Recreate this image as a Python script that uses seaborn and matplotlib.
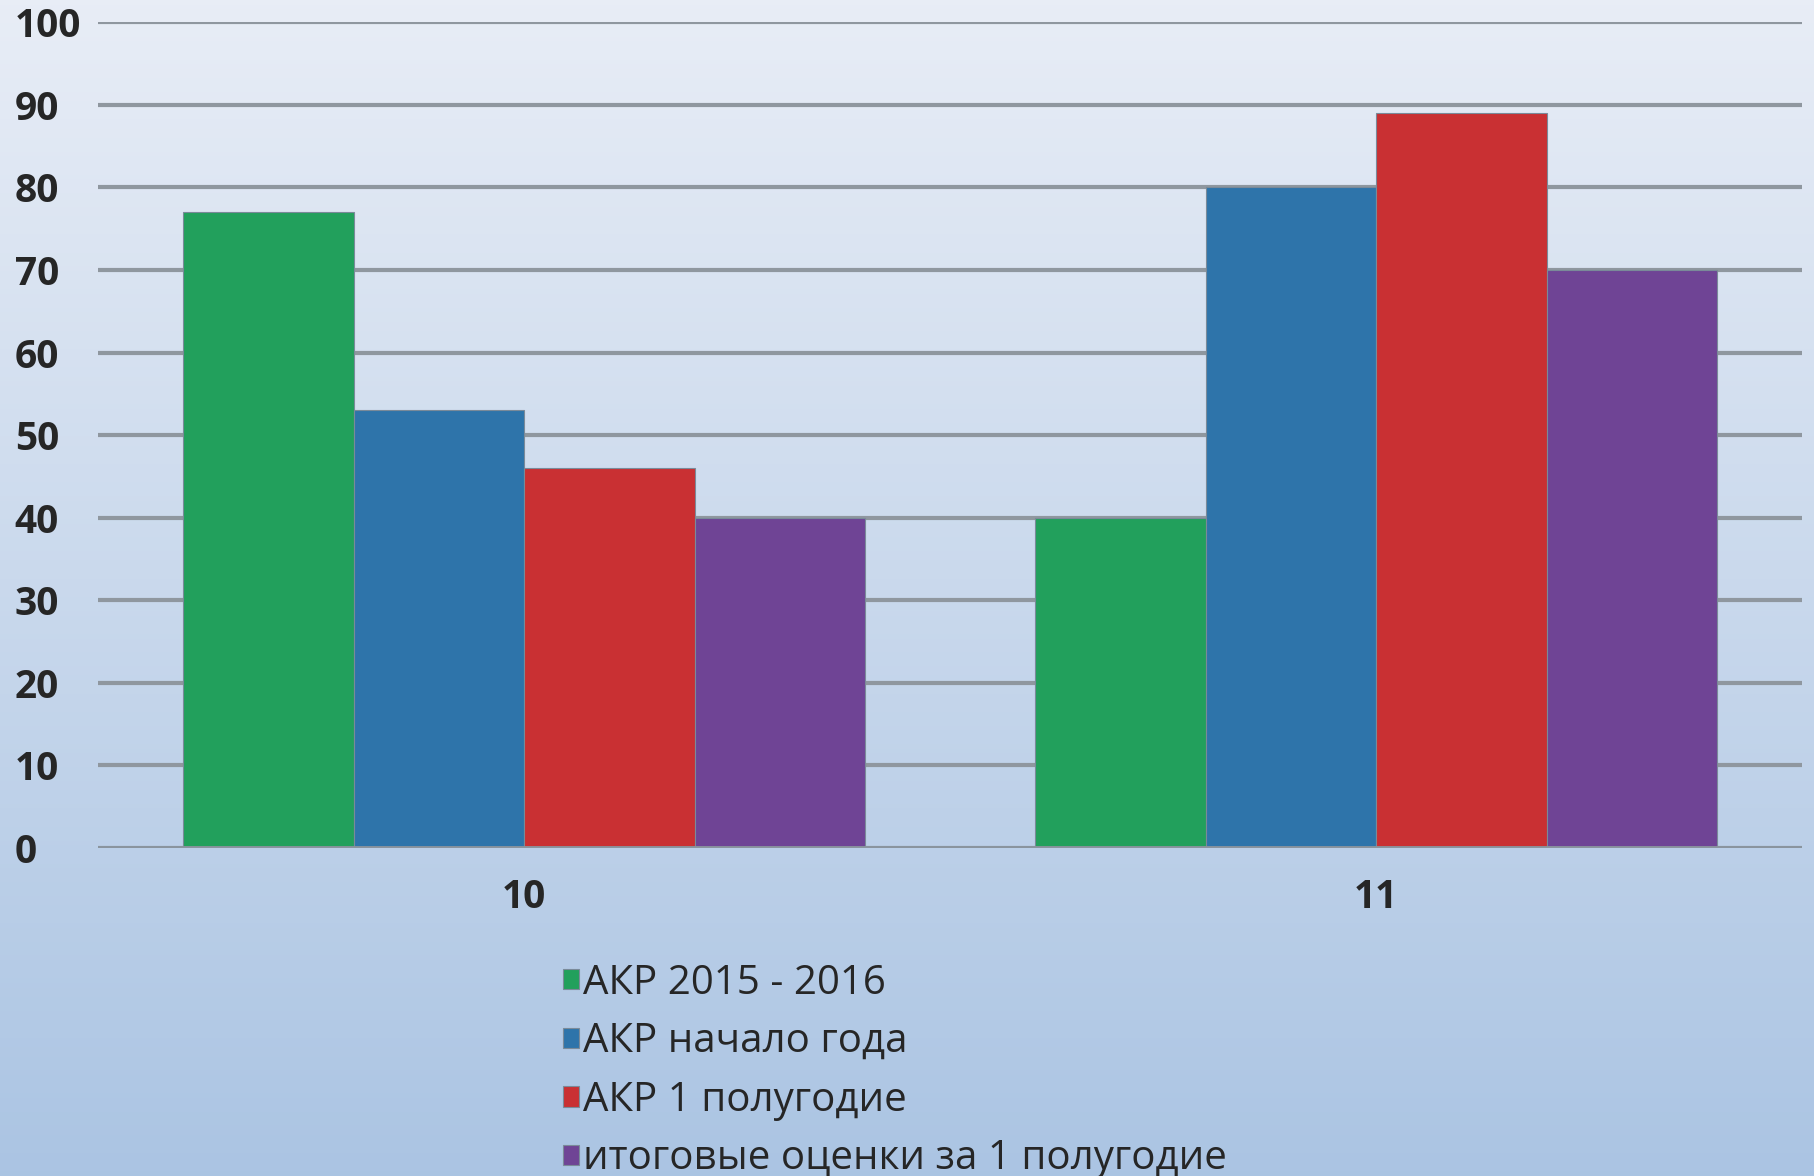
import numpy as np
import pandas as pd
import matplotlib
matplotlib.use("Agg")
import matplotlib.pyplot as plt
import seaborn as sns

# data
classes = ["10", "11"]
series = ["АКР 2015 - 2016", "АКР начало года", "АКР 1 полугодие", "итоговые оценки за 1 полугодие"]
akr_2015 = [77, 40]
akr_start = [53, 80]
akr_half = [46, 89]
final_half = [40, 70]
colors = ["#22a05c", "#2e74aa", "#c93033", "#6f4495"]

df = pd.DataFrame({
    "класс": classes * 4,
    "серия": [s for s in series for _ in classes],
    "значение": akr_2015 + akr_start + akr_half + final_half,
})

sns.set_style("white")
plt.rcParams["font.family"] = ["Open Sans", "DejaVu Sans"]

fig = plt.figure(figsize=(18.15, 11.76), dpi=100)

# gradient background
bg = fig.add_axes([0, 0, 1, 1], zorder=-10)
grad = np.linspace(0, 1, 256).reshape(-1, 1)
top = np.array([0.91, 0.93, 0.965])
bot = np.array([0.67, 0.77, 0.89])
img = top + (bot - top) * grad[..., None]
bg.imshow(img, aspect="auto", extent=[0, 1, 0, 1])
bg.axis("off")

ax = fig.add_axes([0.054, 0.279, 0.939, 0.702])
ax.patch.set_alpha(0)

sns.barplot(data=df, x="класс", y="значение", hue="серия", palette=colors,
            width=0.8, saturation=1, ax=ax, zorder=3, edgecolor="#7a8a99", linewidth=0.8)

ax.set_ylim(0, 100)
ax.set_xlim(-0.5, 1.5)
ax.set_yticks(range(0, 101, 10))
ax.yaxis.grid(True, color="#8f979f", linewidth=3, zorder=1)
ax.set_axisbelow(True)
for s in ax.spines.values():
    s.set_visible(False)
ax.axhline(0, color="#8a949e", linewidth=3.5, zorder=4)
ax.set_xlabel("")
ax.set_ylabel("")
ax.tick_params(axis="both", length=0, labelsize=28)
ax.tick_params(axis="y", pad=60)
ax.tick_params(axis="x", pad=22)
for lab in ax.get_yticklabels():
    lab.set_ha("left")
    lab.set_fontweight("bold")
for lab in ax.get_xticklabels():
    lab.set_fontweight("bold")

handles, labels = ax.get_legend_handles_labels()
ax.legend(handles, labels, loc="upper left", bbox_to_anchor=(563 / 1815, 1 - 963 / 1176),
          bbox_transform=fig.transFigure, frameon=False, fontsize=29,
          handlelength=0.4, handleheight=0.4, handletextpad=0.1,
          labelspacing=0.45, borderpad=0, borderaxespad=0)

fig.savefig("out.png", dpi=100)
